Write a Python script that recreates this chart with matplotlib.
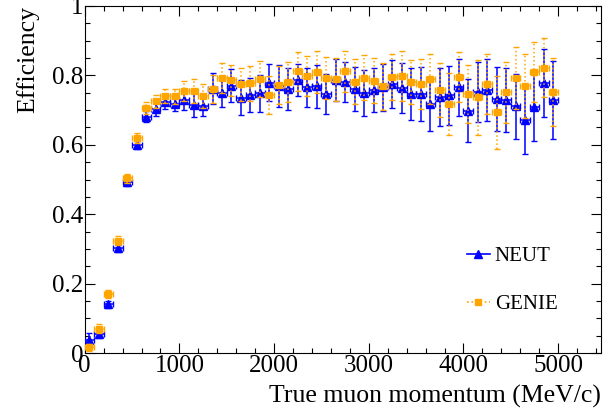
import numpy as np
import matplotlib
matplotlib.use("Agg")
import matplotlib.pyplot as plt
from matplotlib.lines import Line2D
from matplotlib.ticker import MultipleLocator

plt.rcParams["font.family"] = ["Liberation Serif", "DejaVu Serif"]

# bin centres (MeV/c), 100 MeV/c bins
momentum = np.arange(50, 5000, 100)
bin_half_width = 50

neut_eff = [0.039, 0.055, 0.141, 0.302, 0.494, 0.599, 0.681, 0.702, 0.724, 0.718,
            0.729, 0.715, 0.712, 0.761, 0.748, 0.770, 0.736, 0.743, 0.748, 0.779,
            0.770, 0.760, 0.786, 0.765, 0.768, 0.747, 0.787, 0.781, 0.760, 0.750,
            0.758, 0.765, 0.775, 0.763, 0.746, 0.746, 0.718, 0.738, 0.742, 0.765,
            0.698, 0.753, 0.758, 0.732, 0.729, 0.711, 0.671, 0.710, 0.778, 0.730]
neut_err = [0.020, 0.012, 0.010, 0.010, 0.012, 0.012, 0.015, 0.018, 0.020, 0.022,
            0.030, 0.035, 0.030, 0.045, 0.040, 0.047, 0.050, 0.050, 0.054, 0.053,
            0.060, 0.060, 0.046, 0.057, 0.061, 0.058, 0.060, 0.058, 0.063, 0.066,
            0.064, 0.067, 0.068, 0.072, 0.074, 0.078, 0.078, 0.083, 0.086, 0.081,
            0.091, 0.086, 0.089, 0.091, 0.092, 0.094, 0.098, 0.099, 0.098, 0.112]

genie_eff = [0.017, 0.071, 0.170, 0.324, 0.503, 0.619, 0.706, 0.725, 0.740, 0.740,
             0.755, 0.755, 0.740, 0.761, 0.793, 0.786, 0.774, 0.777, 0.789, 0.743,
             0.771, 0.780, 0.811, 0.797, 0.809, 0.793, 0.789, 0.811, 0.782, 0.793,
             0.785, 0.768, 0.795, 0.797, 0.781, 0.775, 0.788, 0.757, 0.718, 0.795,
             0.746, 0.737, 0.775, 0.693, 0.751, 0.793, 0.769, 0.810, 0.822, 0.751]
genie_err = [0.010, 0.012, 0.012, 0.012, 0.012, 0.014, 0.016, 0.018, 0.020, 0.022,
             0.030, 0.035, 0.035, 0.040, 0.043, 0.045, 0.048, 0.050, 0.052, 0.055,
             0.055, 0.058, 0.055, 0.058, 0.061, 0.060, 0.062, 0.060, 0.064, 0.065,
             0.066, 0.068, 0.067, 0.072, 0.063, 0.071, 0.072, 0.077, 0.090, 0.071,
             0.084, 0.108, 0.086, 0.106, 0.087, 0.089, 0.093, 0.087, 0.085, 0.098]

neut_color = "#0000ff"
genie_color = "#ffa500"

fig = plt.figure(figsize=(6.05, 4.17), dpi=100)
ax = fig.add_axes([0.14, 0.153, 0.853, 0.833])

ax.errorbar(momentum, neut_eff, xerr=bin_half_width, yerr=neut_err,
            fmt="^", color=neut_color, ecolor=neut_color, ms=5.5, elinewidth=1.1,
            capsize=2.5, capthick=1, zorder=3)
g = ax.errorbar(momentum, genie_eff, xerr=bin_half_width, yerr=genie_err,
                fmt="s", color=genie_color, ecolor=genie_color, ms=4.8, elinewidth=1.1,
                capsize=2.5, capthick=1, zorder=4)
for lc in g[2]:
    lc.set_linestyle(":")

ax.set_xlim(0, 5450)
ax.set_ylim(0, 1)
ax.xaxis.set_major_locator(MultipleLocator(1000))
ax.xaxis.set_minor_locator(MultipleLocator(200))
ax.yaxis.set_major_locator(MultipleLocator(0.2))
ax.yaxis.set_minor_locator(MultipleLocator(0.05))
ax.set_yticks([0, 0.2, 0.4, 0.6, 0.8, 1.0])
ax.set_yticklabels(["0", "0.2", "0.4", "0.6", "0.8", "1"])
ax.tick_params(which="both", direction="in", top=True, right=True, labelsize=18, pad=1)
ax.tick_params(which="major", length=7, width=0.8)
ax.tick_params(which="minor", length=3.5, width=0.8)

ax.set_xlabel("True muon momentum (MeV/c)", fontsize=18.5, loc="right", labelpad=6)
ax.set_ylabel("Efficiency", fontsize=18.5, loc="top", labelpad=9)

handles = [Line2D([], [], color=neut_color, marker="^", ms=5.5, lw=1.2),
           Line2D([], [], color=genie_color, marker="s", ms=4.8, lw=1.2, ls=":")]
ax.legend(handles, ["NEUT", "GENIE"], frameon=False, fontsize=15,
          loc="center left", bbox_to_anchor=(0.74, 0.21), handlelength=1.1,
          handletextpad=0.25, labelspacing=1.35, borderpad=0, borderaxespad=0)

fig.savefig("out.png", dpi=100)
